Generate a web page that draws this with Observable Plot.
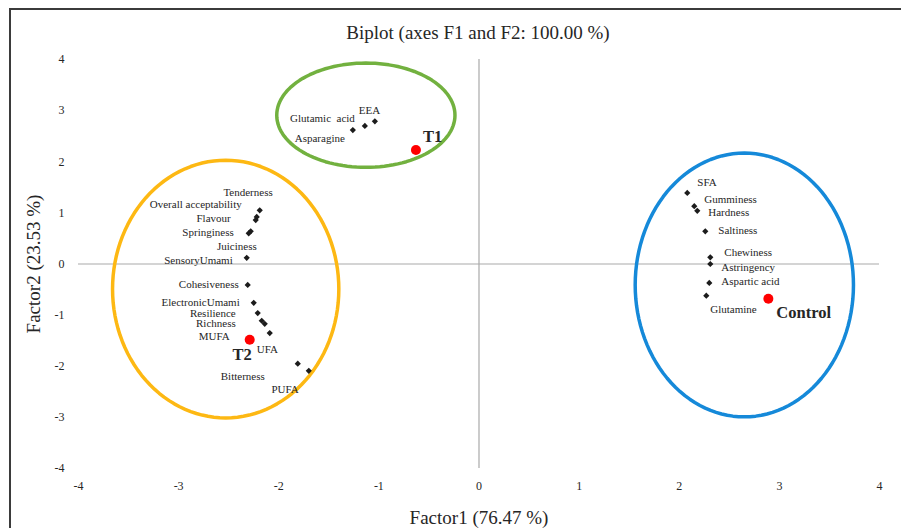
<!DOCTYPE html>
<html>
<head>
<meta charset="utf-8">
<script src="https://cdn.jsdelivr.net/npm/d3@7"></script>
<script src="https://cdn.jsdelivr.net/npm/@observablehq/plot@0.6"></script>
<style>
  body { margin: 0; background: #fff; }
  #wrap { position: relative; width: 901px; height: 528px; overflow: hidden; background: #fff; }
  #frame { position: absolute; left: 9px; top: 8px; width: 1000px; height: 1000px;
           border-top: 2px solid #3b3b3b; border-left: 2px solid #3b3b3b; pointer-events: none; }
  #title { box-sizing: border-box; height: 45px; padding-top: 22px; padding-left: 55px; line-height: 22px;
           text-align: center; font-family: "Liberation Serif", "Times New Roman", serif; font-size: 19px; color: #262626; }
  svg { display: block; }
</style>
</head>
<body>
<div id="wrap">
  <div id="frame"></div>
  <div id="title">Biplot (axes F1 and F2: 100.00 %)</div>
  <div id="chart"></div>
</div>
<script>
// ---- Data ----
const variableNames = [
  "Tenderness", "Overall acceptability", "Flavour", "Springiness", "Juiciness", "SensoryUmami",
  "Cohesiveness", "ElectronicUmami", "Resilience", "Richness", "MUFA", "UFA", "Bitterness", "PUFA",
  "Glutamic  acid", "EEA", "Asparagine",
  "SFA", "Gumminess", "Hardness", "Saltiness", "Chewiness", "Astringency", "Aspartic acid", "Glutamine"
];
const variableF1 = [
  -2.19, -2.22, -2.23, -2.28, -2.30, -2.32,
  -2.31, -2.25, -2.21, -2.17, -2.14, -2.09, -1.81, -1.70,
  -1.14, -1.04, -1.26,
  2.08, 2.15, 2.18, 2.26, 2.31, 2.31, 2.30, 2.27
];
const variableF2 = [
  1.05, 0.92, 0.86, 0.64, 0.60, 0.12,
  -0.41, -0.76, -0.96, -1.11, -1.17, -1.35, -1.95, -2.09,
  2.70, 2.79, 2.62,
  1.39, 1.13, 1.04, 0.64, 0.13, 0.00, -0.37, -0.62
];
const observationNames = ["T1", "T2", "Control"];
const observationF1 = [-0.63, -2.29, 2.89];
const observationF2 = [2.23, -1.48, -0.68];

// Group ellipses (centre and semi-axes in factor units)
const ellipseGroups = ["T1", "T2", "Control"];
const ellipseCx = [-1.13, -2.53, 2.65];
const ellipseCy = [2.91, -0.49, -0.41];
const ellipseRx = [0.89, 1.13, 1.09];
const ellipseRy = [1.02, 2.52, 2.58];

const xTicks = [-4, -3, -2, -1, 0, 1, 2, 3, 4];
const yTicks = [-4, -3, -2, -1, 0, 1, 2, 3, 4];
const xTitle = "Factor1 (76.47 %)";
const yTitle = "Factor2 (23.53 %)";

// ---- Layout / styling (label placement in pixels, colours) ----
const labelPlacement = {
  "Tenderness": [13, -18, "end"],
  "Overall acceptability": [-15, -12, "end"],
  "Flavour": [-25, -2, "end"],
  "Springiness": [-17, 1, "end"],
  "Juiciness": [8, 13, "end"],
  "SensoryUmami": [-14, 3, "end"],
  "Cohesiveness": [-9, 0, "end"],
  "ElectronicUmami": [-14, 0, "end"],
  "Resilience": [-22, 0, "end"],
  "Richness": [-26, 3, "end"],
  "MUFA": [-35, 13, "end"],
  "UFA": [-13, 16, "start"],
  "Bitterness": [-33, 13, "end"],
  "PUFA": [-10, 19, "end"],
  "Glutamic  acid": [-10, -7, "end"],
  "EEA": [-16, -11, "start"],
  "Asparagine": [-8, 8, "end"],
  "SFA": [10, -10, "start"],
  "Gumminess": [10, -7, "start"],
  "Hardness": [11, 2, "start"],
  "Saltiness": [13, -1, "start"],
  "Chewiness": [14, -5, "start"],
  "Astringency": [11, 3, "start"],
  "Aspartic acid": [12, -1, "start"],
  "Glutamine": [4, 14, "start"]
};
const obsPlacement = {
  "T1": [7, -13, "start"],
  "T2": [2, 15, "end"],
  "Control": [8, 14, "start"]
};
const ellipseColor = {"T1": "#72B13F", "T2": "#FDB813", "Control": "#1589D9"};
const serif = "'Liberation Serif', 'Times New Roman', serif";

// ---- Build tables ----
const variables = variableNames.map((name, i) => ({name, x: variableF1[i], y: variableF2[i]}));
const observations = observationNames.map((name, i) => ({name, x: observationF1[i], y: observationF2[i]}));
const ellipsePts = [];
ellipseGroups.forEach((g, i) => {
  const n = 120;
  for (let k = 0; k < n; k++) {
    const t = 2 * Math.PI * k / n;
    ellipsePts.push({g, x: ellipseCx[i] + ellipseRx[i] * Math.cos(t), y: ellipseCy[i] + ellipseRy[i] * Math.sin(t)});
  }
});

const marks = [
  Plot.ruleY([0], {x1: -4, x2: 4, stroke: "#a9a9a9", strokeWidth: 1.2}),
  Plot.ruleX([0], {y1: -4, y2: 4, stroke: "#a9a9a9", strokeWidth: 1.2}),
  ...ellipseGroups.map(g => Plot.line(ellipsePts.filter(p => p.g === g), {
    x: "x", y: "y", curve: "linear-closed", stroke: ellipseColor[g], strokeWidth: 3.5
  })),
  Plot.dot(variables, {x: "x", y: "y", symbol: "diamond2", r: 2.8, fill: "#1c1c1c", stroke: null}),
  Plot.dot(observations, {x: "x", y: "y", r: 5, fill: "#ff0000", stroke: null}),
  ...variables.map(d => {
    const [dx, dy, anchor] = labelPlacement[d.name];
    return Plot.text([d], {x: "x", y: "y", text: "name", dx, dy, textAnchor: anchor,
      fontSize: 11, fontFamily: serif, fill: "#262626"});
  }),
  ...observations.map(d => {
    const [dx, dy, anchor] = obsPlacement[d.name];
    return Plot.text([d], {x: "x", y: "y", text: "name", dx, dy, textAnchor: anchor,
      fontSize: 16.5, fontWeight: "bold", fontFamily: serif, fill: "#262626"});
  }),
  Plot.axisX({ticks: xTicks, tickFormat: d => String(d), tickSize: 0, tickPadding: 13, label: null, fontSize: 12, fontFamily: serif}),
  Plot.axisY({ticks: yTicks, tickFormat: d => String(d), tickSize: 0, tickPadding: 14, label: null, fontSize: 12, fontFamily: serif}),
  Plot.axisX({ticks: [], tickSize: 0, label: xTitle, labelAnchor: "center", labelArrow: "none", labelOffset: 55, fontSize: 19, fontFamily: serif}),
  Plot.axisY({ticks: [], tickSize: 0, label: yTitle, labelAnchor: "center", labelArrow: "none", labelOffset: 52, dy: 8, fontSize: 19, fontFamily: serif})
];

const chart = Plot.plot({
  width: 901,
  height: 483,
  marginLeft: 78,
  marginRight: 22,
  marginTop: 14,
  marginBottom: 60,
  x: {domain: [-4, 4], axis: null},
  y: {domain: [-4, 4], axis: null},
  style: {fontFamily: serif, color: "#262626", background: "transparent", overflow: "visible"},
  marks
});
document.getElementById("chart").appendChild(chart);
</script>
</body>
</html>
